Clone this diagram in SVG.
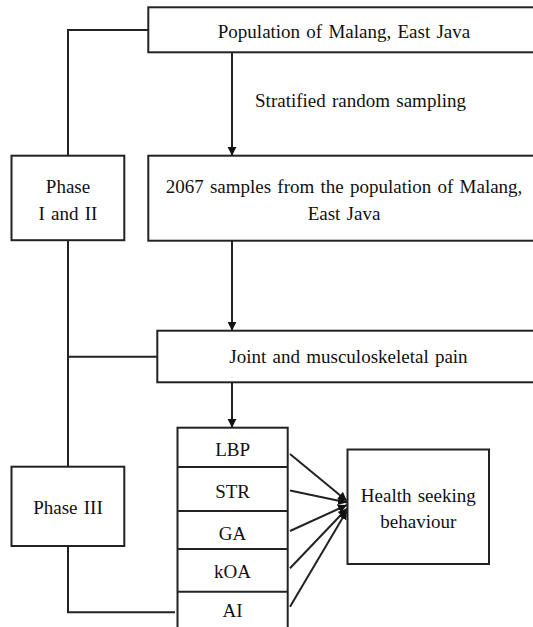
<svg xmlns="http://www.w3.org/2000/svg" width="533" height="627" viewBox="0 0 533 627">
<defs>
<style>
.box{fill:#fff;stroke:#222;stroke-width:2}
.ln{fill:none;stroke:#222;stroke-width:2}
.t{font-family:"Liberation Serif","Times New Roman",serif;font-size:19px;fill:#111;text-anchor:middle;word-spacing:1.5px}
</style>
<marker id="ah" viewBox="0 0 10 10" refX="10" refY="5" markerWidth="4.5" markerHeight="4.5" orient="auto" markerUnits="strokeWidth">
<path d="M0,0 L10,5 L0,10 Z" fill="#111"/>
</marker>
</defs>
<rect width="533" height="627" fill="#fff"/>
<g id="connectors">
<polyline class="ln" points="148,30 68,30 68,155.7"/>
<line class="ln" x1="68" y1="240" x2="68" y2="466.7"/>
<line class="ln" x1="68" y1="356.7" x2="157" y2="356.7"/>
<polyline class="ln" points="68,546 68,612.3 175,612.3"/>
<line class="ln" x1="232" y1="52.3" x2="232" y2="155.7" marker-end="url(#ah)"/>
<line class="ln" x1="232" y1="240.7" x2="232" y2="330.7" marker-end="url(#ah)"/>
<line class="ln" x1="232" y1="382.3" x2="232" y2="427.7" marker-end="url(#ah)"/>
<line class="ln" x1="290" y1="454" x2="347" y2="501" marker-end="url(#ah)"/>
<line class="ln" x1="290" y1="490.5" x2="347" y2="502.5" marker-end="url(#ah)"/>
<line class="ln" x1="290" y1="531" x2="347" y2="505" marker-end="url(#ah)"/>
<line class="ln" x1="290" y1="568.3" x2="347" y2="508.5" marker-end="url(#ah)"/>
<line class="ln" x1="290" y1="606.7" x2="347" y2="510.5" marker-end="url(#ah)"/>
</g>
<g id="population">
<rect class="box" x="148.3" y="7.3" width="400" height="45"/>
<text class="t" x="344" y="37.5">Population of Malang, East Java</text>
</g>
<g id="sampling-label">
<text class="t" x="360.5" y="106.7">Stratified random sampling</text>
</g>
<g id="samples">
<rect class="box" x="148.3" y="155.7" width="400" height="85"/>
<text class="t" x="344" y="193">2067 samples from the population of Malang,</text>
<text class="t" x="344" y="220">East Java</text>
</g>
<g id="phase12">
<rect class="box" x="11.5" y="155.7" width="112.8" height="84.5"/>
<text class="t" x="68" y="193">Phase</text>
<text class="t" x="68" y="220">I and II</text>
</g>
<g id="joint">
<rect class="box" x="157.3" y="330.7" width="400" height="51.6"/>
<text class="t" x="348.5" y="363">Joint and musculoskeletal pain</text>
</g>
<g id="phase3">
<rect class="box" x="11.5" y="466.7" width="112.8" height="79.3"/>
<text class="t" x="68" y="514">Phase III</text>
</g>
<g id="conditions">
<rect class="box" x="177.5" y="427.7" width="110.2" height="220"/>
<line class="ln" x1="177.5" y1="467" x2="287.7" y2="467"/>
<line class="ln" x1="177.5" y1="511" x2="287.7" y2="511"/>
<line class="ln" x1="177.5" y1="549" x2="287.7" y2="549"/>
<line class="ln" x1="177.5" y1="591.7" x2="287.7" y2="591.7"/>
<text class="t" x="232.6" y="455.7">LBP</text>
<text class="t" x="232.6" y="498.3">STR</text>
<text class="t" x="232.6" y="540">GA</text>
<text class="t" x="232.6" y="578.3">kOA</text>
<text class="t" x="232.6" y="617.3">AI</text>
</g>
<g id="health">
<rect class="box" x="347.5" y="449.5" width="141.5" height="114.5"/>
<text class="t" x="418.3" y="501.7">Health seeking</text>
<text class="t" x="418.3" y="528.3">behaviour</text>
</g>
</svg>
